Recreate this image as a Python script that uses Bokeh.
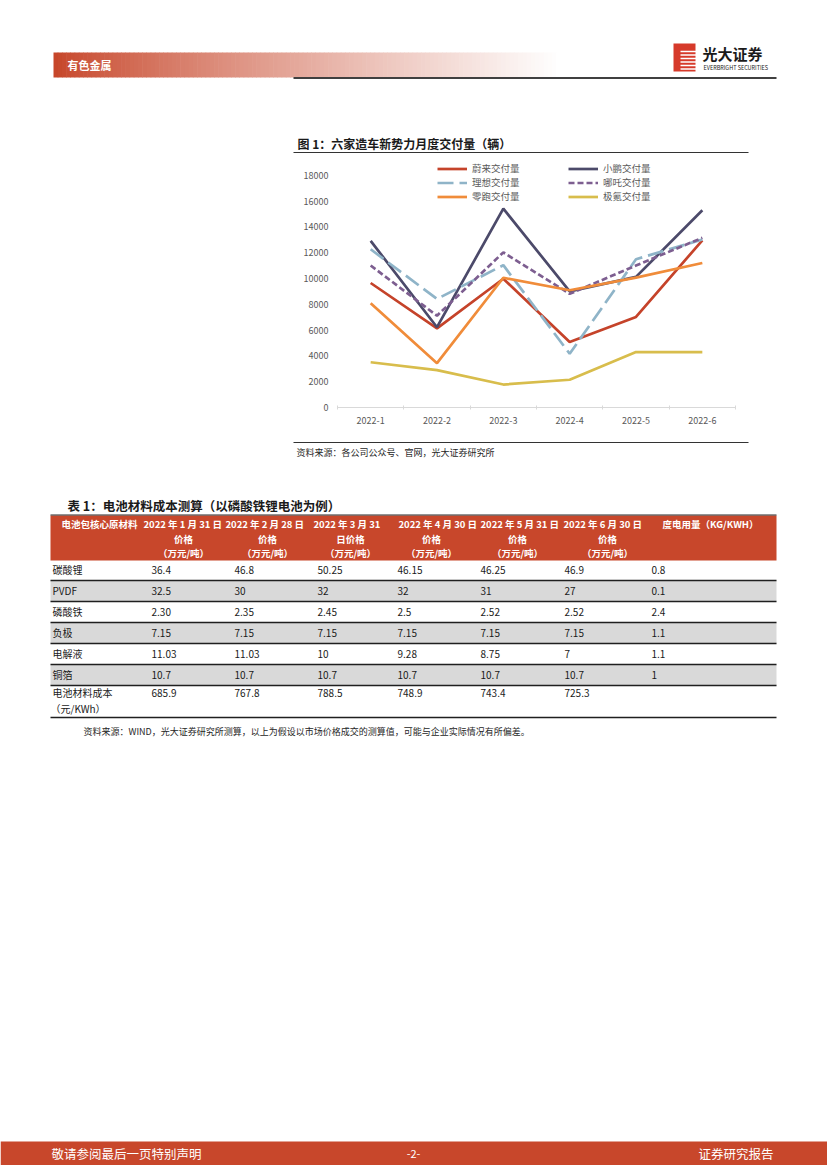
import numpy as np
from bokeh.plotting import figure
from bokeh.models import Range1d, FixedTicker, Legend, LegendItem, Spacer
from bokeh.layouts import column, row
from bokeh.embed import file_html
from bokeh.resources import INLINE
from bokeh.core.properties import value

# ---------------- data ----------------
months = ["2022-1", "2022-2", "2022-3", "2022-4", "2022-5", "2022-6"]
nio = [9652, 6131, 9985, 5074, 7024, 12961]
xpeng = [12922, 6225, 15414, 9002, 10125, 15295]
lixiang = [12268, 8414, 11034, 4167, 11496, 13024]
neta = [11009, 7117, 12026, 8813, 11005, 13157]
leapmotor = [8085, 3435, 10059, 9087, 10069, 11200]
zeekr = [3506, 2900, 1780, 2150, 4300, 4300]
series_names = ["蔚来交付量", "小鹏交付量", "理想交付量", "哪吒交付量", "零跑交付量", "极氪交付量"]
y_ticks = [0, 2000, 4000, 6000, 8000, 10000, 12000, 14000, 16000, 18000]

materials = ["碳酸锂", "PVDF", "磷酸铁", "负极", "电解液", "铜箔", "电池材料成本"]
material_unit_line = "（元/KWh）"
price_0131 = ["36.4", "32.5", "2.30", "7.15", "11.03", "10.7", "685.9"]
price_0228 = ["46.8", "30", "2.35", "7.15", "11.03", "10.7", "767.8"]
price_0331 = ["50.25", "32", "2.45", "7.15", "10", "10.7", "788.5"]
price_0430 = ["46.15", "32", "2.5", "7.15", "9.28", "10.7", "748.9"]
price_0531 = ["46.25", "31", "2.52", "7.15", "8.75", "10.7", "743.4"]
price_0630 = ["46.9", "27", "2.52", "7.15", "7", "10.7", "725.3"]
usage_kg_kwh = ["0.8", "0.1", "2.4", "1.1", "1.1", "1", ""]
header_line1 = ["电池包核心原材料", "2022 年 1 月 31 日", "2022 年 2 月 28 日", "2022 年 3 月 31",
                "2022 年 4 月 30 日", "2022 年 5 月 31 日", "2022 年 6 月 30 日", "度电用量（KG/KWH）"]
header_line2 = ["价格", "价格", "日价格", "价格", "价格", "价格"]
header_line3 = ["（万元/吨）"] * 6

FONT = value("Noto Sans CJK SC")
RED = "#C8472B"
PAGE_W = 827


def put(p, xs, ys, texts, size, color="#1a1a1a", bold=False, align="left"):
    p.text(x=xs, y=ys, text=texts, text_font=FONT, text_font_size=f"{size}px",
           text_color=color, text_font_style="bold" if bold else "normal",
           text_align=align, text_baseline="middle")


def page_fig(y0, y1):
    p = figure(width=PAGE_W, height=y1 - y0, x_range=Range1d(0, PAGE_W), y_range=Range1d(y1, y0),
               output_backend="svg", toolbar_location=None,
               x_axis_location=None, y_axis_location=None, min_border=0)
    p.outline_line_color = None
    p.xgrid.visible = False
    p.ygrid.visible = False
    return p


# ---------------- top part (page y 0..155) ----------------
top = page_fig(0, 155)
n = 120
edges = np.linspace(53, 560, n + 1)
c0 = np.array([199, 70, 42])
cols = []
for i in range(n):
    t = (i / (n - 1)) ** 0.85
    c = (c0 + (np.array([255, 255, 255]) - c0) * t).astype(int)
    cols.append("#%02x%02x%02x" % tuple(c))
top.quad(left=edges[:-1], right=edges[1:] + 0.6, top=52, bottom=77, fill_color=cols, line_color=None)
put(top, [67], [64.5], ["有色金属"], 11, "white", True)
# logo
top.quad(left=[673], right=[695], top=[43], bottom=[71], fill_color="#D63A2A", line_color=None)
stripe_y = [51, 54.5, 58, 61.5, 65, 68.5]
top.segment(x0=[680] * 6, y0=stripe_y, x1=[695.5] * 6, y1=stripe_y, line_color="white", line_width=1.4)
put(top, [702], [53], ["光大证券"], 15, "#1a1a1a", True)
put(top, [703], [67.5], ["EVERBRIGHT SECURITIES"], 5.5, "#1a1a1a")
top.segment(x0=[293], y0=[77.5], x1=[776], y1=[77.5], line_color="#404040", line_width=2)
# chart title
put(top, [297], [143], ["图 1：六家造车新势力月度交付量（辆）"], 12, "#1a1a1a", True)
top.segment(x0=[293], y0=[152], x1=[748], y1=[152], line_color="#333333", line_width=1.2)

# ---------------- chart (page y 155..437, x 293..748) ----------------
ch = figure(width=455, height=282, x_range=Range1d(0, 6), y_range=Range1d(0, 19150),
            output_backend="svg", toolbar_location=None,
            min_border_left=44, min_border_right=13, min_border_top=5, min_border_bottom=30)
ch.outline_line_color = None
ch.xgrid.visible = False
ch.ygrid.visible = False
xpos = np.arange(len(months)) + 0.5
ch.xaxis.ticker = FixedTicker(ticks=list(xpos), minor_ticks=list(range(len(months) + 1)))
ch.xaxis.major_label_overrides = {float(x): m for x, m in zip(xpos, months)}
ch.xaxis.axis_line_color = "#D9D9D9"
ch.xaxis.major_tick_line_color = None
ch.xaxis.major_tick_in = 0
ch.xaxis.major_tick_out = 0
ch.xaxis.minor_tick_line_color = "#D9D9D9"
ch.xaxis.minor_tick_in = 2
ch.xaxis.minor_tick_out = 2
ch.xaxis.major_label_standoff = 7
ch.xaxis.major_label_text_color = "#595959"
ch.xaxis.major_label_text_font_size = "9px"
ch.xaxis.major_label_text_font = "Noto Sans CJK SC"
ch.yaxis.ticker = FixedTicker(ticks=y_ticks)
ch.yaxis.axis_line_color = None
ch.yaxis.major_tick_line_color = None
ch.yaxis.minor_tick_line_color = None
ch.yaxis.major_tick_in = 0
ch.yaxis.major_tick_out = 0
ch.yaxis.major_label_standoff = 9
ch.yaxis.major_label_text_color = "#595959"
ch.yaxis.major_label_text_font_size = "9px"
ch.yaxis.major_label_text_font = "Noto Sans CJK SC"

all_series = [nio, xpeng, lixiang, neta, leapmotor, zeekr]
colors = ["#C5432A", "#4C4A6A", "#8FB4C8", "#7D5E90", "#F08C3A", "#D8BD4C"]
dashes = ["solid", "solid", "16 6", "6 3", "solid", "solid"]
rends = []
for s, c, d in zip(all_series, colors, dashes):
    rends.append(ch.line(xpos, s, line_color=c, line_width=2.7, line_dash=d))


def mk_legend(idx, loc):
    lg = Legend(items=[LegendItem(label=series_names[i], renderers=[rends[i]]) for i in idx],
                location=loc, orientation="vertical")
    lg.padding = 0
    lg.margin = 0
    lg.spacing = 0
    lg.glyph_width = 30
    lg.glyph_height = 11
    lg.label_height = 11
    lg.label_standoff = 5
    lg.label_text_font = "Noto Sans CJK SC"
    lg.label_text_font_size = "9.5px"
    lg.label_text_line_height = 0.9
    lg.label_text_color = "#595959"
    lg.background_fill_alpha = 0
    lg.border_line_color = None
    return lg


ch.add_layout(mk_legend([0, 2, 4], (100, 204)))
ch.add_layout(mk_legend([1, 3, 5], (231, 204)))

# ---------------- bottom part (page y 437..1165) ----------------
bot = page_fig(437, 1165)
bot.segment(x0=[293], y0=[442], x1=[748], y1=[442], line_color="#333333", line_width=1.2)
put(bot, [296], [452], ["资料来源：各公司公众号、官网，光大证券研究所"], 9, "#262626")
put(bot, [67], [505], ["表 1：电池材料成本测算（以磷酸铁锂电池为例）"], 12.5, "#1a1a1a", True)

# table
row_edges = [560, 580, 601, 622, 643, 664, 685, 717]
bot.quad(left=50, right=776, top=515, bottom=560, fill_color=RED, line_color=None)
grey_rows = [1, 3, 5]
bot.quad(left=[50] * 3, right=[776] * 3, top=[row_edges[i] for i in grey_rows],
         bottom=[row_edges[i + 1] for i in grey_rows], fill_color="#D9D9D9", line_color=None)
bot.segment(x0=[50], y0=[514.5], x1=[776], y1=[514.5], line_color="#262626", line_width=1)
bot.segment(x0=[50] * 7, y0=row_edges[1:], x1=[776] * 7, y1=row_edges[1:], line_color="#1f1f1f", line_width=1.4)

h1_x = [61, 143, 225, 313, 398, 480, 563, 662]
put(bot, h1_x, [523] * 8, header_line1, 9.5, "white", True)
h2_cx = [183, 267, 350, 431, 517, 607]
put(bot, h2_cx, [538] * 6, header_line2, 9.5, "white", True, "center")
put(bot, h2_cx, [552.5] * 6, header_line3, 9.5, "white", True, "center")

col_x = [52, 151, 234, 317, 397, 480, 564, 651]
row_cy = [569, 590, 611, 632, 653, 674, 692]
table_cols = [materials, price_0131, price_0228, price_0331, price_0430, price_0531, price_0630, usage_kg_kwh]
for cx, colvals in zip(col_x, table_cols):
    put(bot, [cx] * len(colvals), row_cy, colvals, 10, "#1a1a1a")
put(bot, [50], [708], [material_unit_line], 10, "#1a1a1a")

put(bot, [83], [731], ["资料来源：WIND，光大证券研究所测算，以上为假设以市场价格成交的测算值，可能与企业实际情况有所偏差。"],
    9, "#262626")

# footer
bot.quad(left=0, right=PAGE_W, top=1141, bottom=1165, fill_color=RED, line_color=None)
put(bot, [51], [1153], ["敬请参阅最后一页特别声明"], 12.5, "white")
put(bot, [413], [1153], ["-2-"], 11, "white", False, "center")
put(bot, [773], [1153], ["证券研究报告"], 12.5, "white", False, "right")

layout = column(top,
                row(Spacer(width=293, height=282), ch, Spacer(width=PAGE_W - 293 - 455, height=282), spacing=0),
                bot, spacing=0)

open("out.html", "w").write(file_html(layout, INLINE))
